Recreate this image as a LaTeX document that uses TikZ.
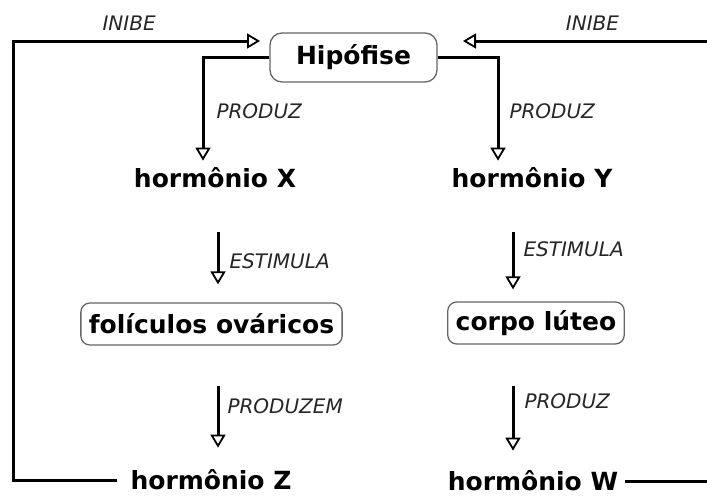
\documentclass[tikz,border=0pt]{standalone}
\usepackage{fontspec}
\setmainfont{DejaVu Sans}
\usetikzlibrary{arrows.meta,positioning,calc}
\tikzset{
  >={Triangle[open,length=13pt,width=15pt,line width=1.8pt]},
  seta/.style={->,line width=3pt},
  caixa/.style={draw=black!60,line width=1.3pt,rounded corners=9pt,inner xsep=8pt,minimum height=42pt,font=\fontsize{25}{30}\selectfont\bfseries},
  termo/.style={inner sep=3pt,font=\fontsize{25}{30}\selectfont\bfseries},
  rotulo/.style={inner sep=0pt,font=\fontsize{20}{24}\selectfont\itshape,text=black!85},
}

\begin{document}
\begin{tikzpicture}[x=1pt,y=-1pt]
\useasboundingbox (0,0) rectangle (707,496);

% ===== Hipofise =====
\node[caixa, minimum width=167pt, minimum height=49pt, rounded corners=12pt] (hipofise) at (353.5,57.5) {Hipófise};

% ===== Left column =====
\node[termo] (hormX) at (215,178) {hormônio X};
\node[caixa] (foliculos) at (211.5,324) {folículos ováricos};
\node[termo] (hormZ) at (211,480) {hormônio Z};

% ===== Right column =====
\node[termo] (hormY) at (532,178) {hormônio Y};
\node[caixa] (corpo) at (536,323) {corpo lúteo};
\node[termo] (hormW) at (533,481) {hormônio W};

% feedback corners
\coordinate (cantoE) at (13,41);
\coordinate (cantoD) at (712,41);
\coordinate (inibeE) at (260,41);
\coordinate (inibeD) at (463,41);

% ===== Feedback (INIBE) =====
\draw[seta, shorten <=10pt] (hormZ.west) -| (cantoE) -- node[rotulo, above=9pt, pos=0.47] {INIBE} (inibeE);
\draw[seta, shorten <=4pt] (hormW.east) -| (cantoD) -- node[rotulo, above=9pt, pos=0.48] {INIBE} (inibeD);

% ===== Hipofise produces X and Y =====
\draw[seta, shorten >=4pt] (hipofise.west) -| node[rotulo, pos=0.75, right=12pt] {PRODUZ} ([xshift=-12pt]hormX.north);
\draw[seta, shorten >=4pt] (hipofise.east) -| node[rotulo, pos=0.75, right=10pt] {PRODUZ} ([xshift=-34pt]hormY.north);

% ===== Stimulation =====
\draw[seta, shorten <=41pt, shorten >=18pt] ([xshift=3pt]hormX.south) -- node[rotulo, pos=0.63, right=10pt] {ESTIMULA} ([xshift=3pt]hormX.south |- foliculos.north);
\draw[seta, shorten <=41pt, shorten >=12pt] ([xshift=-19pt]hormY.south) -- node[rotulo, pos=0.53, right=9pt] {ESTIMULA} ([xshift=-19pt]hormY.south |- corpo.north);

% ===== Production of Z and W =====
\draw[seta, shorten <=40pt, shorten >=19pt] ([xshift=6.5pt]foliculos.south) -- node[rotulo, pos=0.5, right=8pt] {PRODUZEM} ([xshift=6.5pt]foliculos.south |- hormZ.north);
\draw[seta, shorten <=41pt, shorten >=17pt] ([xshift=-23pt]corpo.south) -- node[rotulo, pos=0.46, right=10pt] {PRODUZ} ([xshift=-23pt]corpo.south |- hormW.north);

\end{tikzpicture}
\end{document}
